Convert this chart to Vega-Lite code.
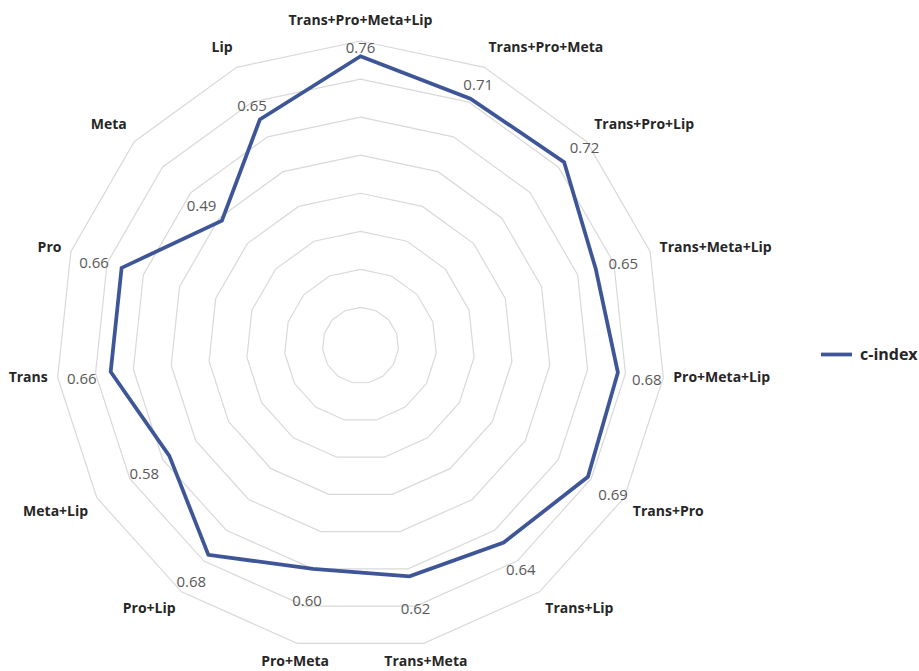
{
  "$schema": "https://vega.github.io/schema/vega-lite/v6.json",
  "width": 919,
  "height": 671,
  "padding": 0,
  "autosize": {"type": "none"},
  "background": "white",
  "config": {"view": {"stroke": null}},
  "datasets": {
    "scores": [
      {"combo": "Trans+Pro+Meta+Lip", "order": 0, "cindex": 0.76},
      {"combo": "Trans+Pro+Meta", "order": 1, "cindex": 0.71},
      {"combo": "Trans+Pro+Lip", "order": 2, "cindex": 0.72},
      {"combo": "Trans+Meta+Lip", "order": 3, "cindex": 0.65},
      {"combo": "Pro+Meta+Lip", "order": 4, "cindex": 0.68},
      {"combo": "Trans+Pro", "order": 5, "cindex": 0.69},
      {"combo": "Trans+Lip", "order": 6, "cindex": 0.64},
      {"combo": "Trans+Meta", "order": 7, "cindex": 0.62},
      {"combo": "Pro+Meta", "order": 8, "cindex": 0.60},
      {"combo": "Pro+Lip", "order": 9, "cindex": 0.68},
      {"combo": "Meta+Lip", "order": 10, "cindex": 0.58},
      {"combo": "Trans", "order": 11, "cindex": 0.66},
      {"combo": "Pro", "order": 12, "cindex": 0.66},
      {"combo": "Meta", "order": 13, "cindex": 0.49},
      {"combo": "Lip", "order": 14, "cindex": 0.65}
    ]
  },
  "data": {"name": "scores"},
  "transform": [
    {"calculate": "datum.order * 2 * PI / 15", "as": "angle"},
    {"calculate": "sin(datum.angle)", "as": "s"},
    {"calculate": "cos(datum.angle)", "as": "c"}
  ],
  "layer": [
    {
      "transform": [
        {"calculate": "[0.1, 0.2, 0.3, 0.4, 0.5, 0.6, 0.7, 0.8]", "as": "ring"},
        {"flatten": ["ring"]},
        {"calculate": "datum.ring * datum.s", "as": "gx"},
        {"calculate": "datum.ring * datum.c", "as": "gy"}
      ],
      "mark": {"type": "line", "interpolate": "linear-closed", "stroke": "#d9d9d9", "strokeWidth": 1.2},
      "encoding": {
        "x": {"field": "gx", "type": "quantitative", "axis": null, "scale": {"domain": [-0.94719, 1.46742], "nice": false, "zero": false}},
        "y": {"field": "gy", "type": "quantitative", "axis": null, "scale": {"domain": [-0.85523, 0.90778], "nice": false, "zero": false}},
        "detail": {"field": "ring", "type": "nominal"},
        "order": {"field": "order", "type": "quantitative"}
      }
    },
    {
      "transform": [
        {"calculate": "datum.cindex * datum.s", "as": "px"},
        {"calculate": "datum.cindex * datum.c", "as": "py"}
      ],
      "mark": {"type": "line", "interpolate": "linear-closed", "strokeWidth": 3.75, "strokeJoin": "miter"},
      "encoding": {
        "x": {"field": "px", "type": "quantitative", "axis": null, "scale": {"domain": [-0.94719, 1.46742], "nice": false, "zero": false}},
        "y": {"field": "py", "type": "quantitative", "axis": null, "scale": {"domain": [-0.85523, 0.90778], "nice": false, "zero": false}},
        "order": {"field": "order", "type": "quantitative"},
        "color": {
          "datum": "c-index",
          "scale": {"range": ["#3E5697"]},
          "legend": {
            "title": null,
            "orient": "none",
            "legendX": 819,
            "legendY": 337,
            "padding": 0,
            "symbolType": "stroke",
            "symbolSize": 961,
            "symbolStrokeWidth": 3.75,
            "labelFont": "Open Sans",
            "labelFontSize": 16,
            "labelFontWeight": "bold",
            "labelColor": "#262626",
            "labelOffset": 6
          }
        }
      }
    },
    {
      "transform": [
        {"calculate": "(29 - 17 * pow(max(0, datum.c), 6)) / 380.6", "as": "off"},
        {"calculate": "(datum.cindex + datum.off) * datum.s", "as": "lx"},
        {"calculate": "(datum.cindex + datum.off) * datum.c - 4 / 380.6", "as": "ly"}
      ],
      "mark": {"type": "text", "font": "Open Sans", "fontSize": 15, "color": "#595959", "align": "center", "baseline": "middle"},
      "encoding": {
        "x": {"field": "lx", "type": "quantitative", "axis": null, "scale": {"domain": [-0.94719, 1.46742], "nice": false, "zero": false}},
        "y": {"field": "ly", "type": "quantitative", "axis": null, "scale": {"domain": [-0.85523, 0.90778], "nice": false, "zero": false}},
        "text": {"field": "cindex", "type": "quantitative", "format": ".2f"}
      }
    },
    {
      "transform": [
        {"filter": "datum.s > 0.4"},
        {"calculate": "(0.8 + 10 / 380.6) * datum.s", "as": "tx"},
        {"calculate": "(0.8 + 10 / 380.6) * datum.c + (datum.c > 0.4 ? 10 : datum.c < -0.4 ? -9 : 0) / 380.6", "as": "ty"}
      ],
      "mark": {"type": "text", "font": "Open Sans", "fontSize": 14, "fontWeight": "bold", "color": "#262626", "align": "left", "baseline": "middle"},
      "encoding": {
        "x": {"field": "tx", "type": "quantitative", "axis": null, "scale": {"domain": [-0.94719, 1.46742], "nice": false, "zero": false}},
        "y": {"field": "ty", "type": "quantitative", "axis": null, "scale": {"domain": [-0.85523, 0.90778], "nice": false, "zero": false}},
        "text": {"field": "combo", "type": "nominal"}
      }
    },
    {
      "transform": [
        {"filter": "datum.s < -0.4"},
        {"calculate": "(0.8 + 10 / 380.6) * datum.s", "as": "tx"},
        {"calculate": "(0.8 + 10 / 380.6) * datum.c + (datum.c > 0.4 ? 10 : datum.c < -0.4 ? -9 : 0) / 380.6", "as": "ty"}
      ],
      "mark": {"type": "text", "font": "Open Sans", "fontSize": 14, "fontWeight": "bold", "color": "#262626", "align": "right", "baseline": "middle"},
      "encoding": {
        "x": {"field": "tx", "type": "quantitative", "axis": null, "scale": {"domain": [-0.94719, 1.46742], "nice": false, "zero": false}},
        "y": {"field": "ty", "type": "quantitative", "axis": null, "scale": {"domain": [-0.85523, 0.90778], "nice": false, "zero": false}},
        "text": {"field": "combo", "type": "nominal"}
      }
    },
    {
      "transform": [
        {"filter": "abs(datum.s) <= 0.4"},
        {"calculate": "(0.8 + 10 / 380.6) * datum.s", "as": "tx"},
        {"calculate": "(0.8 + 10 / 380.6) * datum.c + (datum.c > 0.4 ? 10 : datum.c < -0.4 ? -9 : 0) / 380.6", "as": "ty"}
      ],
      "mark": {"type": "text", "font": "Open Sans", "fontSize": 14, "fontWeight": "bold", "color": "#262626", "align": "center", "baseline": "middle"},
      "encoding": {
        "x": {"field": "tx", "type": "quantitative", "axis": null, "scale": {"domain": [-0.94719, 1.46742], "nice": false, "zero": false}},
        "y": {"field": "ty", "type": "quantitative", "axis": null, "scale": {"domain": [-0.85523, 0.90778], "nice": false, "zero": false}},
        "text": {"field": "combo", "type": "nominal"}
      }
    }
  ]
}
